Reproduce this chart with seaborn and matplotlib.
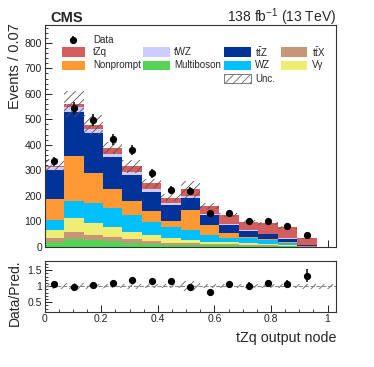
import numpy as np
import pandas as pd
import matplotlib
matplotlib.use("Agg")
import matplotlib.pyplot as plt
import seaborn as sns
from matplotlib.patches import Rectangle
from matplotlib.ticker import MultipleLocator

# ---------------- data ----------------
x_min, x_max, n_bins = 0.0, 1.03, 15
processes = ["tZq", "tWZ", "ttZ", "Nonprompt", "WZ", "Vgamma", "ttX", "Multiboson"]
tzq = [7, 10, 15, 25, 23, 24, 23, 27, 32, 36, 32, 42, 42, 26.5, 0]
twz = [10, 19, 17, 10, 11, 9, 7, 5, 4, 3, 3, 2, 2, 0.5, 0]
ttz = [113, 174, 157, 127, 103, 76, 61, 49, 38, 30, 24, 19, 12, 2, 0]
nonprompt = [82, 177, 117, 75, 54, 42, 24, 78, 40, 22, 6, 3, 5, 1, 0]
wz = [41, 67, 78, 72, 65, 52, 45, 38, 26, 16, 18, 16, 9, 1, 0]
vgamma = [29, 55, 46, 40, 29, 24, 17, 15, 10, 7, 7, 4, 3, 1, 0]
ttx = [18, 27, 20, 14, 14, 12, 8, 7, 5, 5, 4, 3, 2, 0.5, 0]
multiboson = [18, 30, 27, 24, 16, 10, 8, 6, 5, 5, 4, 3, 1, 0.5, 0]
data = [335, 543, 497, 421, 380, 288, 222, 220, 133, 131, 100, 100, 82, 44]
unc_rel = [0.08, 0.09, 0.08, 0.06, 0.08, 0.07, 0.07, 0.15, 0.07, 0.07, 0.07, 0.07, 0.07, 0.08, 0.08]

x_ticks = [0, 0.2, 0.4, 0.6, 0.8, 1.0]
x_ticklabels = ["0", "0.2", "0.4", "0.6", "0.8", "1"]
y_ticks = [0, 100, 200, 300, 400, 500, 600, 700, 800]
r_ticks = [0.5, 1.0, 1.5]
r_ticklabels = ["0.5", "1", "1.5"]

colors = {
    "tZq": "#d45d5d",
    "tWZ": "#ccccff",
    "ttZ": "#003399",
    "Nonprompt": "#ff9933",
    "WZ": "#00bfff",
    "Vgamma": "#eeee77",
    "ttX": "#c69679",
    "Multiboson": "#55d355",
}
labels = {
    "tZq": "tZq", "tWZ": "tWZ", "ttZ": r"t$\bar{\mathrm{t}}$Z", "Nonprompt": "Nonprompt",
    "WZ": "WZ", "Vgamma": "Vγ", "ttX": r"t$\bar{\mathrm{t}}$X", "Multiboson": "Multiboson",
}
series = {"tZq": tzq, "tWZ": twz, "ttZ": ttz, "Nonprompt": nonprompt, "WZ": wz,
          "Vgamma": vgamma, "ttX": ttx, "Multiboson": multiboson}

bin_edges = np.linspace(x_min, x_max, n_bins + 1)
bw = (x_max - x_min) / n_bins
centers = 0.5 * (bin_edges[:-1] + bin_edges[1:])
rows = []
for p in processes:
    for c, w in zip(centers, series[p]):
        rows.append({"x": c, "w": w, "process": p})
df = pd.DataFrame(rows)

total = np.sum([np.array(series[p], float) for p in processes], axis=0)
data_arr = np.array(data, float)
nd = len(data_arr)

# ---------------- style ----------------
sns.set_theme(style="ticks")
plt.rcParams["font.family"] = ["Liberation Sans", "DejaVu Sans"]
plt.rcParams["mathtext.fontset"] = "custom"
plt.rcParams["mathtext.rm"] = "Liberation Sans"
plt.rcParams["mathtext.it"] = "Liberation Sans:italic"
plt.rcParams["mathtext.bf"] = "Liberation Sans:bold"
plt.rcParams["hatch.linewidth"] = 0.6

W, H = 374, 367
fig = plt.figure(figsize=(W / 100, H / 100), dpi=100)

def frac(x0, y0, x1, y1):
    return [x0 / W, 1 - y1 / H, (x1 - x0) / W, (y1 - y0) / H]

ax = fig.add_axes(frac(44.7, 25, 336, 246.7))
axr = fig.add_axes(frac(44.7, 260.7, 336, 311.7))

sns.histplot(data=df, x="x", weights="w", hue="process", hue_order=processes,
             palette=colors, binwidth=bw, binrange=(x_min, x_max), multiple="stack",
             element="step", fill=True, alpha=1, linewidth=0, legend=False, ax=ax)

# uncertainty band main
unc = np.array(unc_rel)
lo = total * (1 - unc)
hi = total * (1 + unc)
for i in range(len(total)):
    if total[i] <= 0:
        continue
    ax.fill_between([bin_edges[i], bin_edges[i + 1]], [lo[i]] * 2, [hi[i]] * 2,
                    facecolor="none", edgecolor="#555555", hatch="////", linewidth=0)

ax.errorbar(centers[:nd], data_arr, yerr=np.sqrt(data_arr), fmt="o", ms=4.2,
            color="black", elinewidth=1.1, capsize=0)

ax.set_xlim(x_min, x_max)
ax.set_ylim(0, 870)
ax.set_xlabel("")
ax.set_ylabel("")
ax.set_yticks(y_ticks)
ax.set_yticklabels([str(v) for v in y_ticks])
ax.set_xticks(x_ticks)
ax.set_xticklabels([])
ax.xaxis.set_minor_locator(MultipleLocator(0.05))
ax.yaxis.set_minor_locator(MultipleLocator(20))

# ratio
ratio = data_arr / total[:nd]
rerr = np.sqrt(data_arr) / total[:nd]
for i in range(len(total)):
    axr.fill_between([bin_edges[i], bin_edges[i + 1]], [1 - unc[i]] * 2, [1 + unc[i]] * 2,
                     facecolor="none", edgecolor="#666666", hatch="////", linewidth=0)
axr.axhline(1, color="#888888", ls="--", lw=0.8)
axr.errorbar(centers[:nd], ratio, yerr=rerr, fmt="o", ms=4.2, color="black",
             elinewidth=1.1, capsize=0)
axr.set_xlim(x_min, x_max)
axr.set_ylim(0.2, 1.8)
axr.set_xticks(x_ticks)
axr.set_xticklabels(x_ticklabels)
axr.set_yticks(r_ticks)
axr.set_yticklabels(r_ticklabels)
axr.xaxis.set_minor_locator(MultipleLocator(0.05))
axr.yaxis.set_minor_locator(MultipleLocator(0.1))

for a in (ax, axr):
    for s in a.spines.values():
        s.set_color("#333333")
        s.set_linewidth(0.8)
    a.tick_params(which="both", direction="in", top=False, right=False,
                  labelsize=7.5, colors="#222222", pad=2)
    a.tick_params(which="major", length=5, width=0.7)
    a.tick_params(which="minor", length=2.5, width=0.6)

# legend (manual)
def ax_xy(px, py):
    return ((px - 44.7) / (336 - 44.7), (246.7 - py) / (246.7 - 25))

tr = ax.transAxes
mx, my = ax_xy(73.3, 40)
ax.errorbar([mx], [my], yerr=[[0.018], [0.018]], fmt="o", ms=4.2, color="black",
            elinewidth=1.1, capsize=0, transform=tr, clip_on=False)
tx, ty = ax_xy(93.3, 40)
ax.text(tx, ty, "Data", transform=tr, fontsize=7, va="center", ha="left")

col_box = [(61.7, 85), (143.3, 170), (224.3, 250.7), (280.7, 306.7)]
col_txt = [93.3, 174.3, 255, 311.7]
layout = [["tZq", "tWZ", "ttZ", "ttX"], ["Nonprompt", "Multiboson", "WZ", "Vgamma"]]
row_y = [52, 65.3]
for r, procs in enumerate(layout):
    for c, p in enumerate(procs):
        x0, y0 = ax_xy(col_box[c][0], row_y[r] + 4.6)
        x1, y1 = ax_xy(col_box[c][1], row_y[r] - 4.6)
        ax.add_patch(Rectangle((x0, y0), x1 - x0, y1 - y0, transform=tr,
                               facecolor=colors[p], edgecolor="none", clip_on=False))
        lx, ly = ax_xy(col_txt[c], row_y[r])
        ax.text(lx, ly, labels[p], transform=tr, fontsize=7, va="center", ha="left")
x0, y0 = ax_xy(col_box[2][0], 78.5 + 4.2)
x1, y1 = ax_xy(col_box[2][1], 78.5 - 4.2)
ax.add_patch(Rectangle((x0, y0), x1 - x0, y1 - y0, transform=tr, facecolor="white",
                       edgecolor="#666666", hatch="////", linewidth=0.6, clip_on=False))
lx, ly = ax_xy(col_txt[2], 78.5)
ax.text(lx, ly, "Unc.", transform=tr, fontsize=7, va="center", ha="left")

# titles and labels
fig.text(50 / W, 1 - 21.7 / H, "CMS", fontsize=10.5, fontweight="bold",
         ha="left", va="baseline")
fig.text(336 / W, 1 - 21.7 / H, r"138 fb$^{-1}$ (13 TeV)", fontsize=10,
         ha="right", va="baseline")
fig.text(15 / W, 1 - 23 / H, "Events / 0.07", rotation=90, fontsize=10.5,
         ha="center", va="top")
fig.text(15 / W, 1 - 260 / H, "Data/Pred.", rotation=90, fontsize=10,
         ha="center", va="top")
fig.text(336 / W, 1 - 337.7 / H, "tZq output node", fontsize=10.3,
         ha="right", va="center")

fig.savefig("out.png", dpi=100)
